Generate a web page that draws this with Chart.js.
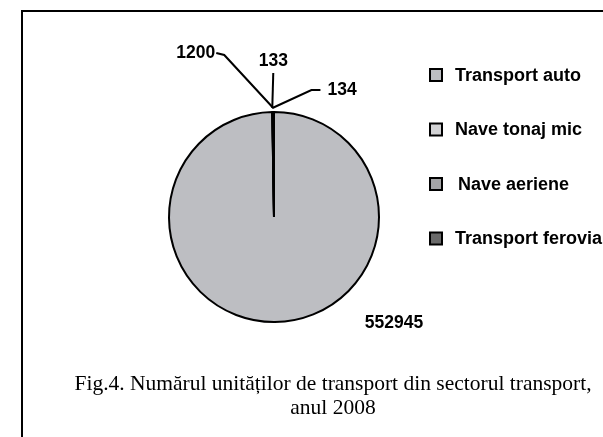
<!DOCTYPE html>
<html>
<head>
<meta charset="utf-8">
<script src="https://cdn.jsdelivr.net/npm/chart.js@4/dist/chart.umd.min.js"></script>
<style>
  html, body { margin: 0; padding: 0; background: #fff; }
  #wrap { width: 603px; height: 437px; position: relative; }
</style>
</head>
<body>
<div id="wrap"><canvas id="myChart" width="603" height="437"></canvas></div>
<script>
var categories = ['Transport auto', 'Nave tonaj mic', 'Nave aeriene', 'Transport feroviar'];
var values = [552945, 133, 134, 1200];
var sliceColors = ['#bdbec2', '#d2d2d4', '#a4a4a6', '#6a6a6a'];
var caption = ['Fig.4. Numărul unităților de transport din sectorul transport,', 'anul 2008'];

// leader line layout for each data label: elbow + text offsets from the slice's outer point
var labelLayout = [
    { tx: 120, ty: 106, elbow: null, align: 'center' },
    { tx: 1, ty: -47, elbow: [[1, -35]], align: 'center' },
    { tx: 55, ty: -18, elbow: [[39, -18], [48, -18]], align: 'left' },
    { tx: -58, ty: -55, elbow: [[-49, -53], [-57, -55]], align: 'right' }
];

var decorations = {
    id: 'decorations',
    afterDraw: function (chart) {
        var c = chart.ctx;
        var meta = chart.getDatasetMeta(0);
        c.save();

        // frame
        c.strokeStyle = '#000';
        c.lineWidth = 2;
        c.beginPath();
        c.moveTo(22, 437);
        c.lineTo(22, 11);
        c.lineTo(603, 11);
        c.stroke();

        // data labels with leader lines
        c.font = 'bold 17.5px "Liberation Sans", Arial, sans-serif';
        c.fillStyle = '#000';
        c.textBaseline = 'middle';
        c.lineWidth = 2;
        meta.data.forEach(function (arc, i) {
            var p = arc.getProps(['x', 'y', 'startAngle', 'endAngle', 'outerRadius'], true);
            var mid = (p.startAngle + p.endAngle) / 2;
            var ox, oy;
            if (i === 0) {
                ox = p.x; oy = p.y;
            } else {
                ox = p.x + Math.cos(mid) * (p.outerRadius + 4);
                oy = p.y + Math.sin(mid) * (p.outerRadius + 4);
            }
            var L = labelLayout[i];
            if (L.elbow) {
                c.beginPath();
                c.moveTo(ox, oy);
                L.elbow.forEach(function (e) { c.lineTo(ox + e[0], oy + e[1]); });
                c.stroke();
            }
            c.textAlign = L.align;
            c.fillText(String(values[i]), ox + L.tx, oy + L.ty);
        });

        // legend
        c.font = 'bold 18px "Liberation Sans", Arial, sans-serif';
        c.textAlign = 'left';
        categories.forEach(function (name, i) {
            var y = 75 + i * 54.5;
            c.fillStyle = sliceColors[i];
            c.fillRect(430, y - 6, 12, 12);
            c.strokeStyle = '#000';
            c.lineWidth = 2;
            c.strokeRect(430, y - 6, 12, 12);
            c.fillStyle = '#000';
            c.fillText(name, i === 2 ? 458 : 455, y + 1);
        });

        // caption
        c.font = '21.5px "Liberation Serif", "Times New Roman", serif';
        c.textAlign = 'center';
        c.textBaseline = 'alphabetic';
        c.fillText(caption[0], 333, 390);
        c.fillText(caption[1], 333, 414);
        c.restore();
    }
};

var ctx = document.getElementById('myChart').getContext('2d');
var myChart = new Chart(ctx, {
    type: 'pie',
    data: {
        labels: categories,
        datasets: [{
            data: values,
            backgroundColor: sliceColors,
            borderColor: '#000',
            borderWidth: 2
        }]
    },
    options: {
        responsive: false,
        animation: false,
        events: [],
        layout: {
            padding: { left: 168, right: 223, top: 111, bottom: 114 }
        },
        plugins: {
            legend: { display: false },
            tooltip: { enabled: false },
            title: { display: false }
        }
    },
    plugins: [decorations]
});
</script>
</body>
</html>
